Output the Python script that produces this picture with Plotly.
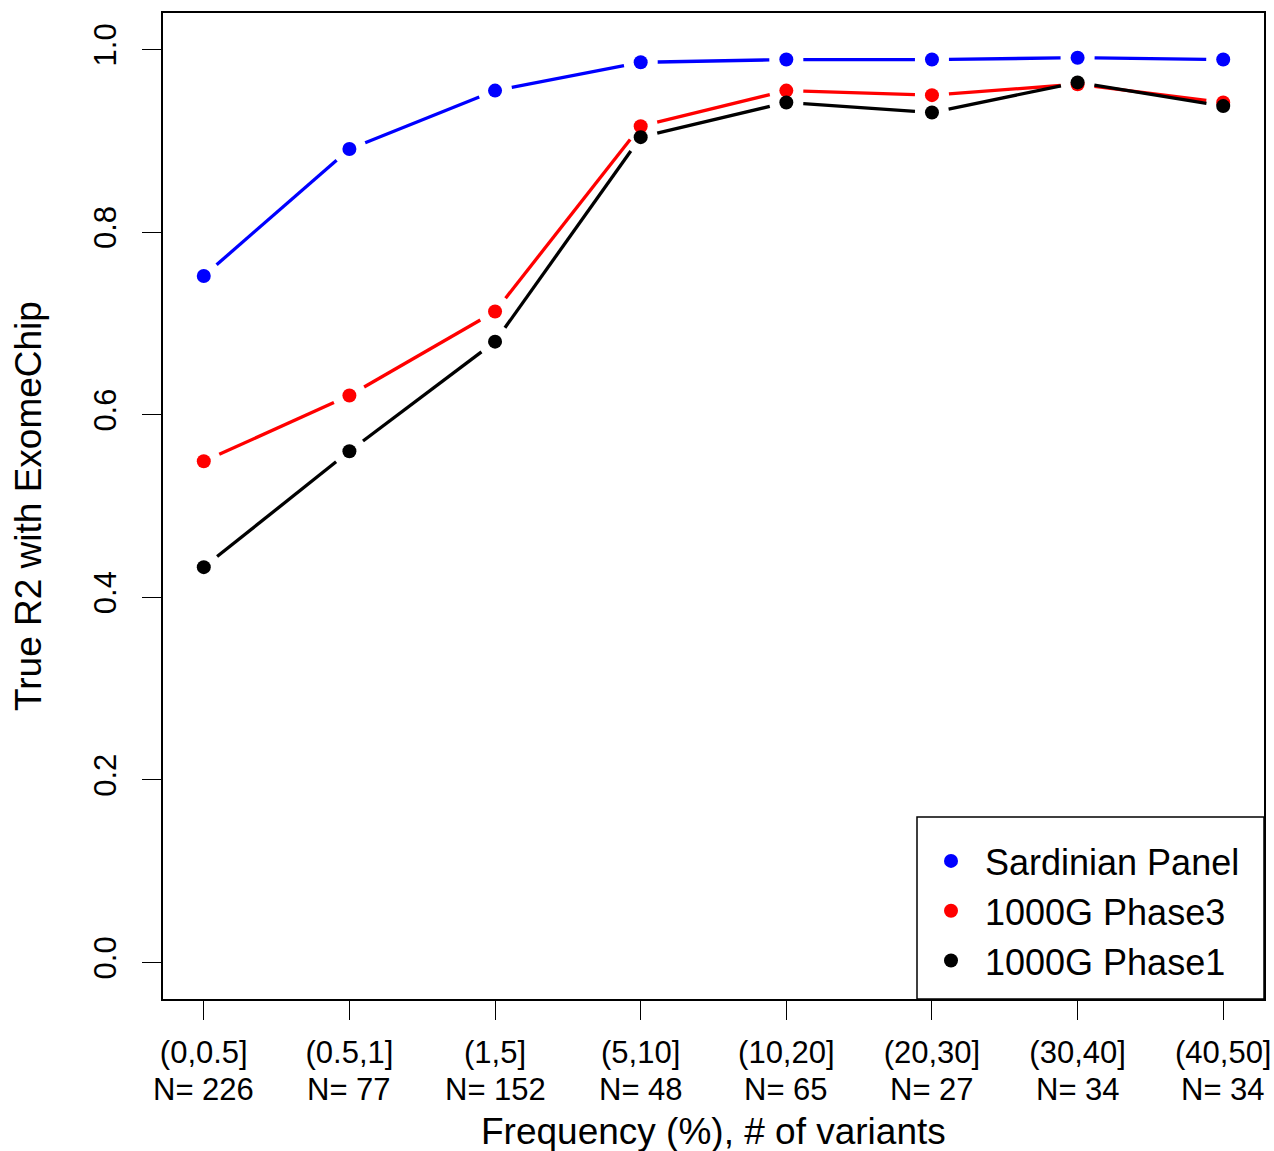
import plotly.graph_objects as go

categories = ["(0,0.5]", "(0.5,1]", "(1,5]", "(5,10]", "(10,20]", "(20,30]", "(30,40]", "(40,50]"]
n_variants = [226, 77, 152, 48, 65, 27, 34, 34]
sardinian = [0.752, 0.891, 0.955, 0.986, 0.989, 0.989, 0.991, 0.989]
phase3 = [0.549, 0.621, 0.713, 0.916, 0.955, 0.950, 0.962, 0.942]
phase1 = [0.433, 0.560, 0.680, 0.904, 0.942, 0.931, 0.964, 0.938]
y_ticks = [0.0, 0.2, 0.4, 0.6, 0.8, 1.0]

series = [("Sardinian Panel", sardinian, "#0000FF"),
          ("1000G Phase3", phase3, "#FF0000"),
          ("1000G Phase1", phase1, "#000000")]

W, H = 1274, 1151
ML, MR, MT, MB = 163, 10, 13, 152
PW, PH = W - ML - MR, H - MT - MB
XR = [-0.28, len(categories) - 1 + 0.28]
YR = [-0.04, 1.04]
sx = PW / (XR[1] - XR[0])
sy = PH / (YR[1] - YR[0])
GAP = 17.0  # px gap around points, like R type="b"

def gapped(xs, ys):
    ox, oy = [], []
    for i in range(len(xs) - 1):
        dxp = (xs[i + 1] - xs[i]) * sx
        dyp = (ys[i + 1] - ys[i]) * sy
        L = (dxp ** 2 + dyp ** 2) ** 0.5
        if L <= 2 * GAP:
            continue
        f = GAP / L
        ox += [xs[i] + (xs[i + 1] - xs[i]) * f, xs[i + 1] - (xs[i + 1] - xs[i]) * f, None]
        oy += [ys[i] + (ys[i + 1] - ys[i]) * f, ys[i + 1] - (ys[i + 1] - ys[i]) * f, None]
    return ox, oy

def px_x(p):  # pixel column -> paper x
    return (p - ML) / PW

def px_y(p):  # pixel row -> paper y
    return (MT + PH - p) / PH

xs = list(range(len(categories)))
fig = go.Figure()
for name, vals, col in series:
    gx, gy = gapped(xs, vals)
    fig.add_trace(go.Scatter(x=gx, y=gy, mode="lines", line=dict(color=col, width=3.3),
                             showlegend=False, hoverinfo="skip"))
    fig.add_trace(go.Scatter(x=xs, y=vals, mode="markers", name=name,
                             marker=dict(color=col, size=14, line=dict(width=0))))

font = "Liberation Sans, Arial, Helvetica, sans-serif"

annotations = [
    dict(text="Frequency (%), # of variants", xref="paper", yref="paper",
         x=0.5, y=px_y(1131), xanchor="center", yanchor="middle", showarrow=False,
         font=dict(size=37)),
    dict(text="True R2 with ExomeChip", xref="paper", yref="paper",
         x=px_x(28), y=0.5, xanchor="center", yanchor="middle",
         textangle=-90, showarrow=False, font=dict(size=37)),
]
for xi, n in zip(xs, n_variants):
    annotations.append(dict(text=f"N= {n}", xref="x", yref="paper", x=xi, y=px_y(1089),
                            xanchor="center", yanchor="middle", showarrow=False,
                            font=dict(size=31)))

fig.update_layout(
    width=W, height=H,
    margin=dict(l=ML, r=MR, t=MT, b=MB, pad=0, autoexpand=False),
    paper_bgcolor="white", plot_bgcolor="white",
    font=dict(family=font, size=31, color="black"),
    showlegend=True,
    legend=dict(x=px_x(917), y=px_y(831), xanchor="left", yanchor="top",
                borderwidth=0, bgcolor="rgba(0,0,0,0)",
                font=dict(size=36), itemwidth=58, tracegroupgap=0),
    shapes=[dict(type="rect", xref="paper", yref="paper", x0=px_x(917), x1=1,
                 y0=0, y1=px_y(817), line=dict(color="black", width=1.5),
                 fillcolor="white", layer="below")],
    xaxis=dict(range=XR, tickvals=xs, ticktext=categories, showgrid=False, zeroline=False,
               ticks="outside", ticklen=19, tickwidth=1.2, tickcolor="black",
               showline=True, linecolor="black", linewidth=1.5, mirror=True,
               ticklabelstandoff=6, automargin=False),
    yaxis=dict(range=YR, tickvals=y_ticks, ticktext=[f"{v:.1f}" for v in y_ticks],
               showgrid=False, zeroline=False, tickangle=-90,
               ticks="outside", ticklen=19, tickwidth=1.2, tickcolor="black",
               showline=True, linecolor="black", linewidth=1.5, mirror=True,
               ticklabelstandoff=14, automargin=False),
    annotations=annotations,
)
fig.write_html("out.html")
